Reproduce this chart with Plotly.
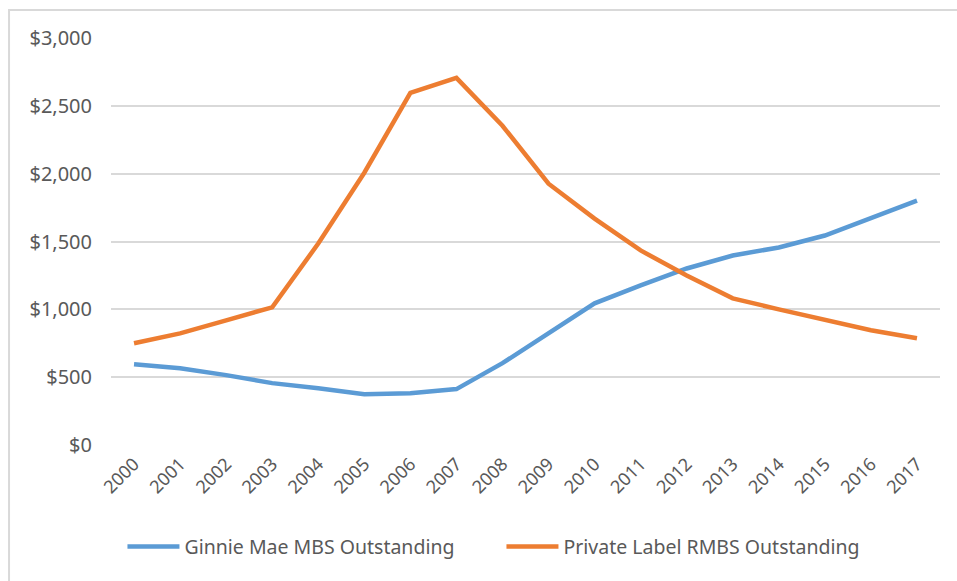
import plotly.graph_objects as go

years = [str(y) for y in range(2000, 2018)]
ginnie = [596, 566, 515, 456, 419, 375, 382, 412, 603, 824, 1044, 1176, 1301, 1397, 1456, 1544, 1669, 1801]
private = [750, 823, 919, 1015, 1485, 2007, 2596, 2706, 2353, 1926, 1669, 1434, 1250, 1081, 1000, 919, 846, 787]
yticks = [0, 500, 1000, 1500, 2000, 2500, 3000]
yticklabels = ["$0", "$500", "$1,000", "$1,500", "$2,000", "$2,500", "$3,000"]

font = "Noto Sans"
grey = "#595959"

fig = go.Figure()
fig.add_trace(go.Scatter(x=years, y=ginnie, mode="lines", name="Ginnie Mae MBS Outstanding",
                         line=dict(color="#5B9BD5", width=4.5)))
fig.add_trace(go.Scatter(x=years, y=private, mode="lines", name="Private Label RMBS Outstanding",
                         line=dict(color="#ED7D31", width=4.5)))

fig.update_layout(
    width=957, height=581,
    margin=dict(l=111, r=17, t=38, b=136),
    paper_bgcolor="white", plot_bgcolor="white",
    font=dict(family=font, color=grey, size=19),
    showlegend=True,
    legend=dict(orientation="h", x=0.471, xanchor="center", y=-0.25, yanchor="middle",
                font=dict(size=19.5, color=grey), itemwidth=52, entrywidth=312),
    shapes=[dict(type="rect", xref="paper", yref="paper", x0=-0.123, x1=1.2, y0=-0.5, y1=1.0688,
                 line=dict(color="#d9d9d9", width=2), layer="below")],
)
fig.update_xaxes(type="category", tickangle=-45, showgrid=False, showline=False, ticks="",
                 tickfont=dict(size=18, color=grey), range=[-0.5, 17.5], ticklabelstandoff=4)
fig.update_yaxes(range=[0, 3000], tickvals=yticks, ticktext=yticklabels, showgrid=True,
                 gridcolor="#d9d9d9", gridwidth=1.5, zeroline=False, showline=False,
                 tickfont=dict(size=20, color=grey), ticklabelstandoff=18)

fig.write_html("out.html")
